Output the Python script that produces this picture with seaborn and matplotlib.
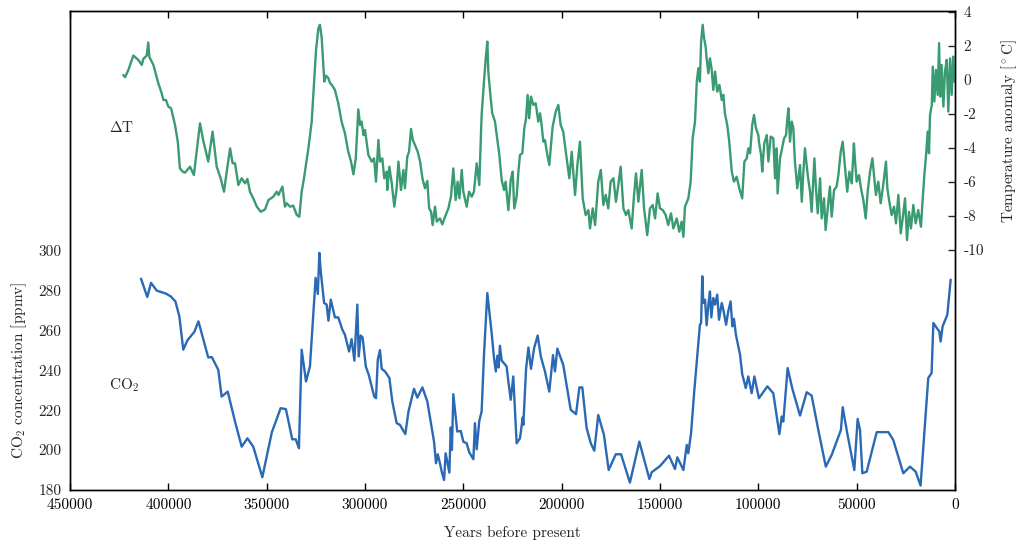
import numpy as np
import pandas as pd
import matplotlib
matplotlib.use("Agg")
import matplotlib.pyplot as plt
import seaborn as sns

# ---- data: temperature anomaly (years before present, degC) ----
temp_age = [422900, 422000, 420300, 417800, 415300, 413500, 412700, 411000, 410200, 409700,
            407600, 405100, 403400, 402500, 401200, 400000, 398600, 396600, 395200, 394100,
            392700, 391500, 389000, 387000, 385300, 383900, 382300, 379700, 377500, 375400,
            373400, 371700, 370300, 368600, 367300, 366100, 364400, 362700, 361000, 359800,
            358500, 356800, 355000, 353000, 350800, 349100, 346600, 344900, 344000, 342000,
            340700, 339800, 338100, 336500, 334700, 333400, 332200, 330900, 328800, 327100,
            325900, 324900, 323700, 322900, 322000, 320700, 319800, 318600, 317800, 316900,
            315300, 313600, 311900, 310200, 308500, 307100, 305900, 304700, 303400, 302500,
            301700, 300800, 300000, 298300, 296600, 295400, 294400, 293200, 292400, 291200,
            290200, 289000, 288700, 287600, 286400, 285100, 283900, 283000, 281700, 280500,
            279700, 278500, 277600, 276600, 275700, 274600, 273200, 272000, 270800, 269500,
            268300, 267400, 266400, 265600, 264400, 263500, 261900, 260700, 259300, 257600,
            256300, 255100, 253900, 252900, 252000, 250800, 250000, 248300, 247100, 245700,
            244600, 243200, 241900, 240700, 239500, 238600, 237800, 237300, 236100, 235300,
            233900, 232700, 231700, 230500, 229300, 228500, 227100, 225900, 224900, 224100,
            222900, 222000, 221200, 220000, 219000, 218100, 217300, 216500, 215600, 214400,
            213200, 211900, 211000, 210200, 209300, 208500, 207300, 206300, 204600, 203000,
            201700, 200500, 199200, 197800, 196100, 194900, 193200, 192000, 190700, 189300,
            187800, 186400, 185600, 184200, 183000, 181400, 180100, 178800, 177600, 176300,
            175100, 173700, 172400, 171200, 170000, 168600, 167300, 166100, 164400, 163200,
            162200, 161000, 159300, 158100, 156500, 155100, 153700, 152500, 151200, 150000,
            148600, 147100, 145800, 144400, 143200, 141500, 140200, 139000, 138100, 137300,
            135600, 134400, 133400, 132200, 131300, 130500, 129700, 129100, 128300, 127600,
            126800, 126300, 125400, 124600, 123700, 122900, 122000, 120900, 119800, 118600,
            117800, 117000, 115800, 114800, 113500, 112400, 111000, 109700, 108200, 107100,
            105900, 105100, 104200, 103100, 102200, 101200, 100000, 99700, 98600, 98000,
            97000, 95700, 94900, 93700, 92400, 91500, 90700, 90200, 89000, 88100,
            86900, 85900, 85300, 84700, 83900, 83000, 82200, 81400, 80200, 78800,
            77900, 77100, 76300, 74900, 73700, 72900, 71500, 70700, 69800, 68600,
            67800, 66600, 65800, 64700, 63600, 62700, 61500, 60200, 59300, 58100,
            57100, 55900, 54800, 53700, 52500, 51400, 50800, 50000, 48800, 47800,
            46600, 45400, 44400, 43200, 42000, 41000, 40200, 39000, 37800, 36500,
            35100, 34400, 33400, 32200, 31000, 30000, 28800, 27600, 26600, 25400,
            24400, 23400, 22400, 21200, 20000, 18700, 17300, 16400, 15600, 14700,
            13900, 13200, 12700, 11800, 11300, 10500, 9700, 8800, 8100, 7500,
            6800, 5900, 5100, 4200, 3400, 2500, 1700, 900, 400]
temp_dT = [0.29, 0.16, 0.59, 1.43, 1.18, 0.88, 1.24, 1.43, 2.20, 1.37,
           0.88, -0.19, -0.78, -1.18, -1.18, -1.57, -1.67, -2.65, -3.63, -5.20,
           -5.39, -5.45, -5.10, -5.59, -3.92, -2.55, -3.53, -4.80, -3.04, -5.10,
           -5.78, -6.57, -5.39, -4.02, -4.90, -4.90, -6.18, -5.78, -6.08, -5.82,
           -6.57, -6.96, -7.45, -7.75, -7.61, -7.06, -6.86, -6.57, -6.76, -6.27,
           -7.45, -7.25, -7.45, -7.39, -7.94, -8.04, -6.57, -5.69, -4.02, -2.45,
           -0.10, 1.76, 3.04, 3.24, 2.45, -0.10, 0.25, 0.10, -0.19, -0.29,
           -0.59, -1.37, -2.45, -3.14, -4.22, -4.80, -5.55, -4.61, -1.73, -2.65,
           -2.45, -3.24, -2.94, -4.41, -4.80, -4.61, -5.98, -3.53, -4.80, -4.61,
           -5.78, -5.39, -6.47, -5.10, -6.08, -7.45, -6.37, -4.80, -6.47, -5.29,
           -6.37, -4.51, -4.22, -2.88, -3.53, -3.82, -4.22, -4.80, -5.78, -6.37,
           -5.94, -7.55, -7.75, -8.53, -7.45, -8.33, -8.14, -8.49, -8.04, -7.55,
           -6.86, -5.20, -7.06, -5.98, -6.96, -5.29, -6.57, -7.45, -6.57, -6.86,
           -6.57, -4.90, -6.18, -2.06, -0.10, 1.27, 2.25, 0.49, -1.08, -1.96,
           -2.45, -3.53, -4.41, -5.88, -6.47, -5.98, -7.65, -5.88, -5.39, -7.55,
           -6.86, -5.39, -4.41, -4.31, -2.84, -2.25, -0.88, -2.25, -0.98, -1.47,
           -1.37, -2.45, -1.96, -2.65, -3.63, -3.53, -4.41, -5.00, -2.75, -1.86,
           -1.47, -2.65, -3.04, -4.31, -5.78, -4.22, -6.76, -5.00, -3.63, -6.96,
           -7.94, -7.65, -8.73, -7.55, -8.53, -5.98, -5.29, -7.35, -6.76, -7.55,
           -5.98, -5.78, -7.16, -6.18, -5.10, -7.55, -7.94, -7.65, -8.73, -6.76,
           -5.49, -7.16, -5.29, -7.55, -9.12, -7.55, -7.35, -8.14, -6.67, -7.55,
           -7.65, -7.94, -8.53, -7.84, -8.73, -8.14, -8.92, -8.33, -9.22, -7.45,
           -6.96, -5.98, -3.43, -2.45, -0.10, 0.69, -0.10, 2.25, 3.24, 2.45,
           1.96, 1.27, 0.39, 1.27, 0.59, -0.59, 0.49, -0.69, -0.29, -1.18,
           -0.88, -1.96, -2.65, -3.63, -5.39, -5.98, -5.69, -6.37, -6.96, -4.80,
           -4.61, -4.02, -4.31, -2.65, -2.06, -2.84, -3.24, -3.63, -4.41, -5.39,
           -3.73, -3.24, -4.80, -3.33, -3.43, -5.78, -4.02, -6.67, -4.61, -4.12,
           -3.43, -3.24, -2.35, -1.67, -3.63, -2.45, -2.84, -4.80, -6.37, -5.00,
           -7.16, -5.39, -4.02, -5.59, -6.57, -7.75, -4.61, -6.37, -7.84, -5.78,
           -8.14, -6.96, -8.82, -7.55, -6.27, -8.04, -6.47, -6.27, -5.59, -4.22,
           -3.63, -5.20, -6.57, -5.39, -6.08, -3.73, -4.80, -5.98, -5.59, -6.37,
           -7.06, -8.14, -6.57, -5.39, -4.61, -5.78, -6.76, -5.98, -7.25, -6.18,
           -4.80, -6.37, -7.16, -7.94, -7.45, -8.43, -6.76, -9.02, -8.14, -6.96,
           -9.41, -7.75, -8.73, -7.35, -8.43, -7.65, -8.63, -6.96, -5.59, -4.41,
           -3.04, -4.31, -2.06, -1.47, 0.78, -1.27, 0.59, -0.88, 2.16, -0.98,
           0.88, -1.57, 0.49, 1.18, -1.86, 1.27, -0.88, 1.37, -0.10]

# ---- data: CO2 concentration (years before present, ppmv) ----
co2_age = [413900, 410700, 408800, 405900, 401200, 398800, 396400, 394400, 392400, 390300,
           386800, 384700, 379700, 377900, 374600, 372900, 369800, 366100, 362700, 359800,
           356800, 352200, 347400, 342900, 340200, 337000, 335200, 333600, 332200, 330000,
           328000, 325100, 324000, 323200, 322500, 320800, 319500, 318600, 317400, 315300,
           313600, 311500, 310200, 308100, 306800, 305400, 303900, 303200, 302200, 301200,
           299600, 298100, 295300, 294400, 293500, 292400, 291500, 289800, 287600, 286100,
           283900, 282200, 279500, 277900, 275100, 273400, 270800, 268300, 264900, 263900,
           263000, 261900, 261000, 259800, 259000, 257100, 256400, 255800, 255100, 253100,
           251300, 250000, 248300, 247000, 244900, 244100, 243200, 241900, 240700, 239500,
           237800, 235600, 234400, 233500, 232700, 232000, 231400, 230500, 228000, 227100,
           225900, 224600, 222900, 221200, 219800, 219500, 218100, 216900, 215600, 214000,
           212200, 210600, 208500, 206300, 204400, 203400, 202200, 199200, 195400, 192700,
           191000, 189500, 187300, 185200, 183400, 181400, 178500, 176100, 172500, 169800,
           165300, 160500, 155400, 154200, 150000, 145400, 142400, 141200, 138100, 136400,
           135600, 134200, 132600, 129700, 129100, 128500, 128000, 127100, 126300, 125400,
           124600, 123900, 122900, 122000, 120900, 120000, 118600, 117800, 116400, 115300,
           114100, 113200, 112400, 111400, 109300, 108200, 106400, 105100, 103400, 102000,
           99700, 95400, 92400, 89300, 88100, 87300, 85100, 82700, 78800, 75400,
           72900, 69500, 65700, 62700, 58000, 57100, 54800, 51200, 49500, 48300,
           47100, 44900, 39800, 33900, 31400, 26300, 22900, 20000, 17500, 13600,
           11900, 11000, 9300, 8000, 7300, 6300, 3900, 2200]
co2_ppmv = [285.9, 276.7, 283.8, 279.9, 278.4, 277.0, 274.5, 267.0, 250.3, 255.0,
            259.2, 264.5, 246.4, 246.6, 240.2, 226.8, 229.3, 214.3, 201.7, 205.9,
            201.7, 186.4, 208.8, 221.0, 220.5, 205.4, 205.4, 200.9, 250.3, 234.4,
            241.9, 286.3, 278.2, 298.8, 289.6, 273.7, 272.9, 264.8, 275.4, 266.5,
            266.5, 260.3, 257.8, 249.4, 255.6, 244.8, 272.9, 246.9, 257.4, 256.4,
            241.9, 237.7, 226.8, 226.0, 245.3, 250.1, 240.7, 239.4, 236.1, 224.3,
            213.5, 212.6, 208.0, 219.3, 230.7, 226.3, 231.4, 224.3, 204.2, 193.4,
            197.9, 193.4, 189.2, 185.0, 198.4, 188.7, 211.3, 200.1, 228.0, 209.3,
            209.6, 204.2, 203.4, 198.9, 195.4, 213.5, 200.4, 214.6, 219.3, 247.8,
            278.7, 258.7, 246.1, 239.4, 247.3, 241.4, 252.3, 244.9, 241.9, 234.4,
            225.2, 236.9, 203.4, 205.9, 216.3, 212.6, 240.7, 251.4, 240.7, 251.1,
            257.4, 246.9, 239.4, 229.3, 247.6, 239.4, 250.8, 242.7, 220.2, 218.0,
            231.4, 231.4, 211.0, 203.4, 199.7, 217.6, 207.6, 190.0, 197.9, 197.9,
            183.7, 204.2, 185.5, 188.9, 192.0, 197.2, 190.5, 196.4, 190.0, 202.6,
            198.4, 208.5, 229.3, 262.8, 263.7, 287.1, 273.7, 275.4, 262.5, 272.9,
            279.5, 266.5, 276.2, 272.9, 277.9, 265.3, 273.7, 270.4, 262.8, 269.5,
            274.5, 262.0, 265.8, 257.8, 247.8, 238.1, 231.1, 236.9, 228.5, 236.9,
            226.0, 231.9, 228.5, 208.0, 216.8, 214.3, 241.1, 230.7, 217.3, 229.0,
            227.3, 210.1, 191.7, 197.6, 210.1, 221.5, 208.5, 190.0, 215.6, 210.1,
            188.4, 189.2, 209.0, 209.0, 205.1, 188.4, 191.7, 189.2, 182.2, 236.1,
            238.6, 263.7, 261.2, 259.5, 254.4, 262.0, 267.8, 285.4]

x_ticks = [450000, 400000, 350000, 300000, 250000, 200000, 150000, 100000, 50000, 0]
co2_ticks = [180, 200, 220, 240, 260, 280, 300]
temp_ticks = [4, 2, 0, -2, -4, -6, -8, -10]

GREEN = "#3a9a72"
BLUE = "#2a69b4"

sns.set_style("ticks")
plt.rcParams["font.family"] = ["cmr10", "DejaVu Serif"]
plt.rcParams["mathtext.fontset"] = "cm"
plt.rcParams["axes.unicode_minus"] = False
plt.rcParams["axes.formatter.use_mathtext"] = True

temp_df = pd.DataFrame({"age": temp_age, "dT": temp_dT})
co2_df = pd.DataFrame({"age": co2_age, "co2": co2_ppmv})

fig = plt.figure(figsize=(10.23, 5.45), dpi=100)
ax = fig.add_axes([70 / 1023, 1 - 490 / 545, 885 / 1023, 479 / 545])
ax2 = ax.twinx()

sns.lineplot(data=co2_df, x="age", y="co2", ax=ax, color=BLUE, lw=1.7,
             estimator=None, sort=False)
sns.lineplot(data=temp_df, x="age", y="dT", ax=ax2, color=GREEN, lw=1.7,
             estimator=None, sort=False)

ax.set_xlim(450000, 0)
ax.set_ylim(180, 420)
ax2.set_ylim(-24.1, 4.05)

ax.set_xticks(x_ticks)
ax.set_xticklabels([str(v) for v in x_ticks])
ax.set_yticks(co2_ticks)
ax.set_yticklabels([str(v) for v in co2_ticks])
ax2.set_yticks(temp_ticks)
ax2.set_yticklabels([str(v) for v in temp_ticks])

fs = 11
ax.tick_params(axis="x", direction="in", top=True, length=5, width=1,
               labelsize=fs, pad=6, colors="black")
ax.tick_params(axis="y", direction="in", length=0, labelsize=fs, pad=6)
ax2.tick_params(axis="y", direction="in", length=5, width=1, labelsize=fs, pad=6)

for a in (ax, ax2):
    for s in a.spines.values():
        s.set_visible(True)
        s.set_color("black")
        s.set_linewidth(1.0)

ax.set_xlabel("Years before present", fontsize=fs)
ax.set_ylabel(r"CO$_2$ concentration [ppmv]", fontsize=fs)
ax2.set_ylabel(r"Temperature anomaly [$^\circ$C]", fontsize=fs)
ax.xaxis.set_label_coords(0.5, -0.075)
ax.yaxis.set_label_coords(-0.046, 0.25)
ax2.yaxis.set_label_coords(1.05, 0.75)

ax2.text(430000, -2.8, r"$\Delta$T", fontsize=fs, ha="left", va="center")
ax.text(430000, 232.5, r"CO$_2$", fontsize=fs, ha="left", va="center")

fig.savefig("out.png", dpi=100)
